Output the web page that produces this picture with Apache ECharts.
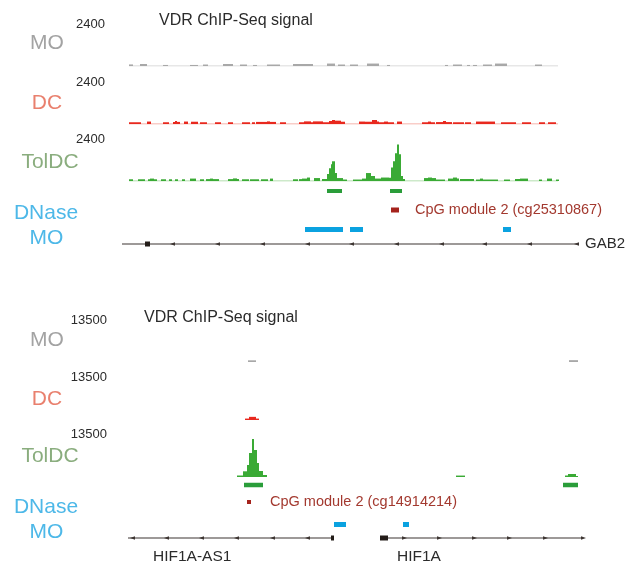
<!DOCTYPE html>
<html>
<head>
<meta charset="utf-8">
<script src="https://cdn.jsdelivr.net/npm/echarts@6/dist/echarts.min.js"></script>
<style>html,body{margin:0;padding:0;background:#fff}#mybox{width:629px;height:564px}</style>
</head>
<body>
<div id="mybox"></div>
<script>
/* VDR ChIP-Seq tracks, two loci */
// positions are kb from the left edge of each locus window, signal values are read counts
// intervals are [start, end, value]

// ---- GAB2 locus ----
var topScale = 2400;
var topCover = [1.4, 87.2];
var topMO = [[1.4,2.2,90],[3.6,5.0,115],[8.2,9.2,60],[13.6,15.2,60],[16.2,17.2,85],[20.2,22.2,115],[23.6,25.0,85],
  [26.2,27.0,60],[29.0,31.6,85],[34.2,38.2,115],[41.0,42.6,140],[43.2,44.6,85],[45.6,47.2,85],[49.0,51.4,140],
  [53.0,53.6,60],[64.6,65.2,60],[66.2,68.0,85],[69.0,69.6,60],[70.2,71.0,60],[72.2,74.0,85],[74.6,77.0,140],[82.6,84.0,85]];
var topDC = [[1.4,3.8,100],[5.0,5.8,140],[8.2,9.4,100],[10.2,10.6,120],[10.6,11.0,170],[11.0,11.6,120],[12.4,13.2,140],
  [13.8,15.2,130],[15.6,17.0,100],[18.6,19.8,100],[21.2,22.2,100],[24.0,25.6,100],[26.0,26.6,100],[26.8,29.0,120],
  [29.0,29.6,150],[29.6,30.8,120],[31.6,32.8,100],[35.4,36.4,100],[36.4,37.8,150],[37.8,38.2,100],[38.2,40.2,150],
  [40.2,41.4,100],[41.4,42.0,170],[42.0,42.6,230],[42.6,43.8,190],[43.8,44.6,130],[47.4,48.6,140],[48.6,50.0,130],
  [50.0,51.0,230],[51.0,51.4,140],[51.4,52.4,100],[52.4,53.2,140],[53.2,54.4,100],[55.0,56.0,140],[60.0,61.2,100],
  [61.2,61.8,140],[61.8,62.6,100],[62.8,64.2,110],[64.2,64.8,170],[64.8,66.0,110],[66.2,68.4,100],[68.6,69.8,100],
  [70.8,74.6,140],[75.8,78.8,100],[80.0,81.8,100],[83.4,84.6,100],[85.2,86.8,100]];
var topTolDC = [[1.4,2.2,100],[3.2,4.6,100],[5.2,5.6,100],[5.6,6.4,140],[6.4,7.0,100],[7.8,8.8,100],[9.4,10.0,100],
  [10.6,11.2,100],[12.0,12.6,100],[13.6,14.8,140],[15.6,16.4,100],[16.8,17.6,110],[17.6,18.2,140],[18.2,19.4,110],
  [21.2,22.2,110],[22.2,23.0,150],[23.0,23.4,110],[24.0,25.4,100],[25.6,27.4,100],[27.8,29.2,100],[29.6,30.2,140],
  [34.2,35.2,100],[35.4,36.0,110],[36.0,37.0,140],[37.0,37.6,200],[38.4,39.6,170],[40.0,41.0,115],[41.0,41.4,400],
  [41.4,41.8,740],[41.8,42.0,970],[42.0,42.6,1140],[42.6,43.0,460],[43.0,43.6,170],[43.6,44.2,170],[44.2,45.0,85],
  [46.2,48.0,85],[48.0,48.8,140],[48.8,49.8,460],[49.8,50.6,290],[50.6,51.8,140],[51.8,53.4,200],[53.4,53.8,190],
  [53.8,54.2,780],[54.2,54.6,1140],[54.6,55.0,1600],[55.0,55.4,2110],[55.4,55.8,1540],[55.8,56.2,290],[56.2,56.6,115],
  [60.4,61.2,170],[61.2,62.0,200],[62.0,62.8,170],[62.8,64.6,85],[65.2,66.2,140],[66.2,67.0,200],[67.0,67.4,140],
  [67.6,70.4,115],[70.8,71.6,85],[71.6,72.2,140],[72.2,75.2,85],[76.4,77.6,85],[78.6,79.6,115],[79.6,81.2,140],
  [83.4,84.0,85],[85.0,86.0,140],[86.8,87.4,85]];
var topPeaks = [[41.0,44.0],[53.6,56.0]];
var topCpG = [[53.8,55.4]];
var topCpGNames = ['CpG module 2 (cg25310867)'];
var topDNase = [[36.6,44.2],[45.6,48.2],[76.2,77.8]];
var gab2Span = [0, 91];
var gab2Exons = [[4.6,5.6]];
var gab2Arrows = [10.2,19.2,28.2,37.2,46.0,55.0,64.0,72.6,81.6,91.0];

// ---- HIF1A locus ----
var botScale = 13500;
var botMO = [[24.0,25.6,550],[88.2,90.0,600]];
var botDC = [[23.4,24.2,450],[24.2,25.6,1000],[25.6,26.2,450]];
var botTolDC = [[21.8,23.0,470],[23.0,23.8,1790],[23.8,24.2,3770],[24.2,24.8,7540],[24.8,25.2,11930],[25.2,25.8,8480],
  [25.8,26.2,4400],[26.2,27.0,1880],[27.0,27.8,630],[65.6,67.4,450],[87.4,88.0,470],[88.0,89.6,940],[89.6,90.0,300]];
var botPeaks = [[23.2,27.0],[87.0,90.0]];
var botCpG = [[23.8,24.6]];
var botCpGNames = ['CpG module 2 (cg14914214)'];
var botDNase = [[41.2,43.6],[55.0,56.2]];
var hif1aAS1Span = [0, 41];
var hif1aAS1Exons = [[40.6,41.2]];
var hif1aAS1Arrows = [1.0,7.8,14.8,21.8,29.0,36.0];
var hif1aSpan = [50.4, 91];
var hif1aExons = [[50.4,52.0]];
var hif1aArrows = [55.2,62.2,69.2,76.2,83.4,91.0];

var FONT = '"Liberation Sans", Arial, sans-serif';
var grids = [], xAxes = [], yAxes = [], series = [];

function addGrid(left, top, height, ymax, labelMargin) {
    var i = grids.length;
    grids.push({left: left, top: top, width: 455, height: height});
    xAxes.push({type: 'value', gridIndex: i, min: 0, max: 91, show: false});
    if (ymax) {
        yAxes.push({type: 'value', gridIndex: i, min: 0, max: ymax, interval: ymax,
            axisLine: {show: false}, axisTick: {show: false}, splitLine: {show: false},
            axisLabel: {margin: labelMargin, color: '#2b2b2b', fontSize: 13, fontFamily: FONT,
                formatter: function (v) { return v === ymax ? String(v) : ''; }}});
    } else {
        yAxes.push({type: 'value', gridIndex: i, min: 0, max: 1, show: false});
    }
    return i;
}

function signal(i, data, color, cover, coverColor) {
    if (cover) {
        series.push({type: 'line', xAxisIndex: i, yAxisIndex: i, silent: true, symbol: 'none', z: 1,
            data: [[cover[0], 0], [cover[1], 0]], lineStyle: {color: coverColor, width: 1}});
    }
    series.push({type: 'custom', xAxisIndex: i, yAxisIndex: i, z: 2, data: data, encode: {x: [0, 1], y: 2},
        renderItem: function (p, api) {
            var a = api.coord([api.value(0), api.value(2)]);
            var b = api.coord([api.value(1), 0]);
            return {type: 'rect', shape: {x: a[0], y: a[1], width: b[0] - a[0], height: b[1] - a[1]},
                style: {fill: color}};
        }});
}

function blocks(i, data, color, h, names, gap) {
    series.push({type: 'custom', xAxisIndex: i, yAxisIndex: i, data: data, encode: {x: [0, 1]},
        renderItem: function (p, api) {
            var a = api.coord([api.value(0), 0.5]);
            var b = api.coord([api.value(1), 0.5]);
            var rect = {type: 'rect', shape: {x: a[0], y: a[1] - h / 2, width: b[0] - a[0], height: h},
                style: {fill: color}};
            if (!names) return rect;
            return {type: 'group', children: [rect, {type: 'text', x: b[0] + gap, y: a[1],
                style: {text: names[p.dataIndex], fill: '#a3392f', font: '14.5px ' + FONT,
                    align: 'left', verticalAlign: 'middle'}}]};
        }});
}

function gene(i, span, exons, arrows, strand) {
    series.push({type: 'custom', xAxisIndex: i, yAxisIndex: i, data: [span], encode: {x: [0, 1]},
        renderItem: function (p, api) {
            var a = api.coord([api.value(0), 0.5]);
            var b = api.coord([api.value(1), 0.5]);
            var y = a[1];
            var kids = [{type: 'line', shape: {x1: a[0], y1: y, x2: b[0], y2: y},
                style: {stroke: '#3d3532', lineWidth: 1.2}}];
            arrows.forEach(function (x) {
                var c = api.coord([x, 0.5])[0];
                var pts = strand < 0 ? [[c - 3, y], [c + 2, y - 1.8], [c + 2, y + 1.8]]
                                     : [[c + 3, y], [c - 2, y - 1.8], [c - 2, y + 1.8]];
                kids.push({type: 'polygon', shape: {points: pts}, style: {fill: '#3d3532'}});
            });
            exons.forEach(function (e) {
                var e0 = api.coord([e[0], 0.5])[0], e1 = api.coord([e[1], 0.5])[0];
                kids.push({type: 'rect', shape: {x: e0, y: y - 2.5, width: e1 - e0, height: 5},
                    style: {fill: '#231c18'}});
            });
            return {type: 'group', children: kids};
        }});
}

// GAB2 panel
var g = addGrid(122, 24, 42, topScale, 17);
signal(g, topMO, '#a8a8a8', topCover, '#cfcfcf');
g = addGrid(122, 82, 42, topScale, 17);
signal(g, topDC, '#e8281e', topCover, '#f39a90');
g = addGrid(122, 139.5, 41.5, topScale, 17);
signal(g, topTolDC, '#3aaa35', topCover, '#9ad394');
blocks(addGrid(122, 186, 10), topPeaks, '#2a9d3a', 4);
blocks(addGrid(122, 205, 10), topCpG, '#a5231c', 5, topCpGNames, 16);
blocks(addGrid(122, 224.5, 10), topDNase, '#0ba2e0', 5);
gene(addGrid(122, 239, 10), gab2Span, gab2Exons, gab2Arrows, -1);

// HIF1A panel
g = addGrid(128, 320.5, 41.5, botScale, 21);
signal(g, botMO, '#a8a8a8');
g = addGrid(128, 377.5, 42.5, botScale, 21);
signal(g, botDC, '#e8281e');
g = addGrid(128, 434, 43, botScale, 21);
signal(g, botTolDC, '#3aaa35');
blocks(addGrid(128, 480, 10), botPeaks, '#2a9d3a', 4.5);
blocks(addGrid(128, 497, 10), botCpG, '#a5231c', 4, botCpGNames, 19);
blocks(addGrid(128, 519.5, 10), botDNase, '#0ba2e0', 5);
g = addGrid(128, 533, 10);
gene(g, hif1aAS1Span, hif1aAS1Exons, hif1aAS1Arrows, -1);
gene(g, hif1aSpan, hif1aExons, hif1aArrows, 1);

function txt(x, y, s, color, size, align) {
    return {type: 'text', x: x, y: y, silent: true,
        style: {text: s, fill: color, font: size + 'px ' + FONT, align: align || 'center', verticalAlign: 'middle'}};
}

var mycharts = echarts.init(document.getElementById('mybox'));
var option = {
    animation: false,
    grid: grids,
    xAxis: xAxes,
    yAxis: yAxes,
    series: series,
    graphic: [
        txt(159, 21, 'VDR ChIP-Seq signal', '#2b2b2b', 16, 'left'),
        txt(47, 43, 'MO', '#a3a3a3', 21),
        txt(47, 103, 'DC', '#e9806e', 21),
        txt(50, 162, 'TolDC', '#8aad7e', 21),
        txt(46, 213, 'DNase', '#4db8e8', 21),
        txt(46.5, 238, 'MO', '#4db8e8', 21),
        txt(585, 244, 'GAB2', '#2b2b2b', 15, 'left'),

        txt(144, 318, 'VDR ChIP-Seq signal', '#2b2b2b', 16, 'left'),
        txt(47, 340, 'MO', '#a3a3a3', 21),
        txt(47, 399, 'DC', '#e9806e', 21),
        txt(50, 456, 'TolDC', '#8aad7e', 21),
        txt(46, 507, 'DNase', '#4db8e8', 21),
        txt(46.5, 532, 'MO', '#4db8e8', 21),
        txt(153, 557, 'HIF1A-AS1', '#2b2b2b', 15.5, 'left'),
        txt(397, 557, 'HIF1A', '#2b2b2b', 15.5, 'left')
    ]
};
mycharts.setOption(option);
</script>
</body>
</html>
